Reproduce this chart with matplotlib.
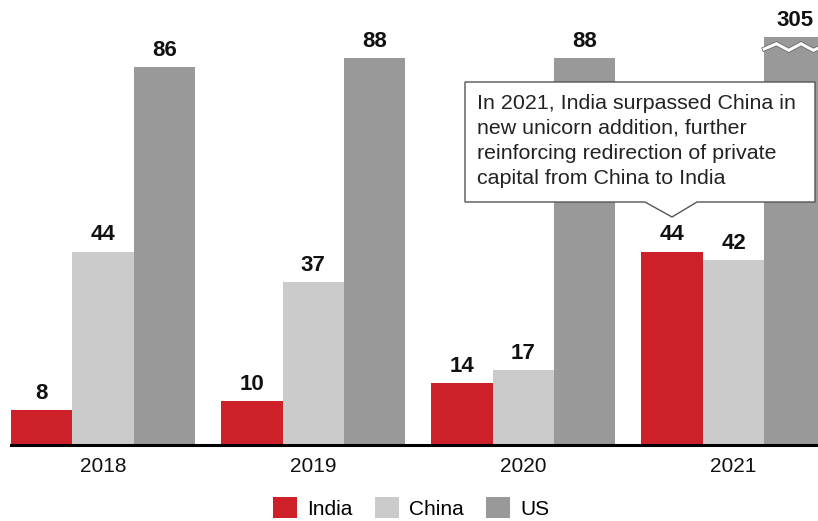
import matplotlib
matplotlib.use("Agg")
import matplotlib.pyplot as plt
import matplotlib.patheffects as pe
from matplotlib.patches import Polygon, Patch
import numpy as np

plt.rcParams['font.family'] = ['Liberation Sans', 'DejaVu Sans']

years = ["2018", "2019", "2020", "2021"]
series = ["India", "China", "US"]
india = [8, 10, 14, 44]
china = [44, 37, 17, 42]
us = [86, 88, 88, 305]
colors = ["#CE2029", "#CBCBCB", "#999999"]

US_CAP = 92.8   # displayed height of broken (axis-break) bar
YMAX = 101.25

W, H = 818, 521
fig = plt.figure(figsize=(W / 100, H / 100), dpi=100)
ax = fig.add_axes([11 / W, (H - 445) / H, 1 - 11 / W, 445 / H])

x = np.arange(len(years))
bw = 0.292
offsets = [-bw, 0, bw]
data = [india, china, us]

for vals, off, col in zip(data, offsets, colors):
    shown = [min(v, US_CAP) for v in vals]
    ax.bar(x + off, shown, width=bw, color=col, linewidth=0, zorder=2)
    for xi, v, s in zip(x, vals, shown):
        ax.annotate(str(v), (xi + off, s), xytext=(0, 4.5), textcoords="offset points",
                    ha="center", va="bottom", fontsize=16, fontweight="bold", color="#111111")

# axis break marks on truncated bars
for xi, v in zip(x, us):
    if v > US_CAP:
        zx = np.linspace(xi + bw - bw / 2, xi + bw + bw / 2, 6)
        zy = [90.1, 91.3, 89.8, 91.3, 89.8, 91.0]
        ax.plot(zx, zy, color="white", lw=2.2, zorder=3, clip_on=True,
                solid_joinstyle="miter",
                path_effects=[pe.Stroke(linewidth=3.4, foreground="#6a6a6a"), pe.Normal()])

ax.set_xlim(-1.5 * bw, 3.402)
ax.set_ylim(0, YMAX)
ax.set_xticks(x)
ax.set_xticklabels(years, fontsize=15, color="#111111")
ax.tick_params(axis="x", length=0, pad=9)
ax.set_yticks([])
for s in ["top", "right", "left"]:
    ax.spines[s].set_visible(False)
ax.spines["bottom"].set_linewidth(2.2)
ax.spines["bottom"].set_color("black")
ax.spines["bottom"].set_zorder(4)
ax.set_facecolor("none")

# callout box
def px(a, b):
    return (a / W, 1 - b / H)

box = [px(465, 82), px(815, 82), px(815, 202), px(697, 202), px(672, 217),
       px(645, 202), px(465, 202)]
fig.patches.append(Polygon(box, closed=True, transform=fig.transFigure, facecolor="white",
                           edgecolor="#555555", linewidth=1.0, zorder=5))
fig.text(*px(477, 141), "In 2021, India surpassed China in\nnew unicorn addition, further\n"
         "reinforcing redirection of private\ncapital from China to India",
         ha="left", va="center", fontsize=15.4, color="#222222", linespacing=1.4, zorder=6)

handles = [Patch(facecolor=c, edgecolor="none") for c in colors]
fig.legend(handles, series, loc="center", bbox_to_anchor=px(411, 508), ncol=3, frameon=False,
           fontsize=15, handlelength=1.15, handleheight=1.15, handletextpad=0.5,
           columnspacing=1.05, borderaxespad=0)

fig.savefig("out.png", dpi=100)
